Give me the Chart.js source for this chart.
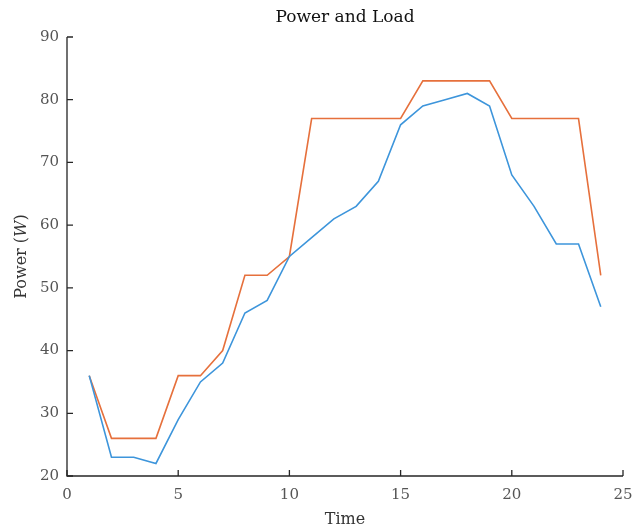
<!DOCTYPE html>
<html>
<head>
<meta charset="utf-8">
<script src="https://cdn.jsdelivr.net/npm/chart.js@4/dist/chart.umd.min.js"></script>
<style>
html,body{margin:0;padding:0;background:#fff;}
#wrap{width:632px;height:530px;position:relative;}
</style>
</head>
<body>
<div id="wrap"><canvas id="c" width="632" height="530"></canvas></div>
<script>
const timeSteps = [1,2,3,4,5,6,7,8,9,10,11,12,13,14,15,16,17,18,19,20,21,22,23,24];
const powerSeries = [36,23,23,22,29,35,38,46,48,55,58,61,63,67,76,79,80,81,79,68,63,57,57,47];
const loadSeries  = [36,26,26,26,36,36,40,52,52,55,77,77,77,77,77,83,83,83,83,77,77,77,77,52];
const xTicks = [0,5,10,15,20,25];
const yTicks = [20,30,40,50,60,70,80,90];
const chartTitle = "Power and Load";
const xTitle = "Time";

const FONT = "'DejaVu Serif', 'Liberation Serif', serif";
const AXIS = '#262626';
const TICKTXT = '#555555';

const pts = (ys) => timeSteps.map((t,i)=>({x:t,y:ys[i]}));

const decor = {
  id:'decor',
  afterDraw(chart){
    const ctx = chart.ctx, ca = chart.chartArea;
    const xs = chart.scales.x, ys = chart.scales.y;
    ctx.save();
    ctx.strokeStyle = AXIS; ctx.lineWidth = 1.3;
    ctx.beginPath();
    ctx.moveTo(ca.left, ca.top); ctx.lineTo(ca.left, ca.bottom); ctx.lineTo(ca.right, ca.bottom);
    ctx.stroke();
    ctx.beginPath();
    yTicks.forEach(v=>{const p=ys.getPixelForValue(v); ctx.moveTo(ca.left,p); ctx.lineTo(ca.left+6,p);});
    xTicks.forEach(v=>{const p=xs.getPixelForValue(v); ctx.moveTo(p,ca.bottom); ctx.lineTo(p,ca.bottom-6);});
    ctx.stroke();
    // tick labels
    ctx.fillStyle = TICKTXT; ctx.font = "15px " + FONT;
    ctx.textAlign='right'; ctx.textBaseline='middle';
    yTicks.forEach(v=>ctx.fillText(String(v), ca.left-8, ys.getPixelForValue(v)));
    ctx.textAlign='center'; ctx.textBaseline='top';
    xTicks.forEach(v=>ctx.fillText(String(v), xs.getPixelForValue(v), ca.bottom+12));
    // title
    ctx.fillStyle = '#111'; ctx.font = "17px " + FONT;
    ctx.textAlign='center'; ctx.textBaseline='middle';
    ctx.fillText(chartTitle, (ca.left+ca.right)/2, 18);
    // x title
    ctx.fillStyle = '#333'; ctx.font = "16px " + FONT;
    ctx.fillText(xTitle, (ca.left+ca.right)/2, 520);
    // y title with italic W
    ctx.translate(22, (ca.top+ca.bottom)/2);
    ctx.rotate(-Math.PI/2);
    const parts = [["Power (", "16px "+FONT],["W","italic 16px "+FONT],[")", "16px "+FONT]];
    let total = 0;
    parts.forEach(p=>{ctx.font=p[1]; total += ctx.measureText(p[0]).width;});
    let x = -total/2;
    ctx.textAlign='left';
    parts.forEach(p=>{ctx.font=p[1]; ctx.fillText(p[0], x, 0); x += ctx.measureText(p[0]).width;});
    ctx.restore();
  }
};

new Chart(document.getElementById('c'), {
  type:'line',
  data:{
    datasets:[
      {label:'Power', data:pts(powerSeries), borderColor:'#3d95db', borderWidth:1.6, pointRadius:0, tension:0, fill:false},
      {label:'Load', data:pts(loadSeries), borderColor:'#e6703c', borderWidth:1.6, pointRadius:0, tension:0, fill:false}
    ]
  },
  options:{
    responsive:false, animation:false, devicePixelRatio:1,
    layout:{padding:{top:37,right:9,left:0,bottom:0}},
    plugins:{legend:{display:false}, title:{display:false}, tooltip:{enabled:false}},
    scales:{
      x:{type:'linear', min:0, max:25, grid:{display:false, drawTicks:false}, border:{display:false},
         ticks:{display:false}, afterFit(s){s.height=54;}},
      y:{type:'linear', min:20, max:90, grid:{display:false, drawTicks:false}, border:{display:false},
         ticks:{display:false}, afterFit(s){s.width=67;}}
    }
  },
  plugins:[decor]
});
</script>
</body>
</html>
